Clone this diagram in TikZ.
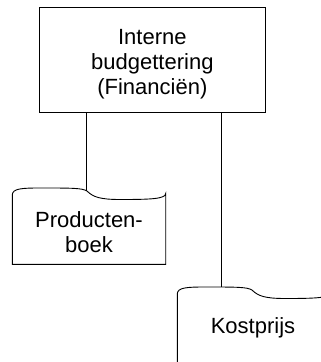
\documentclass[tikz,border=0pt]{standalone}
\usepackage{fontspec}
\setmainfont{Liberation Sans}
\begin{document}
\begin{tikzpicture}[x=1pt,y=-1pt,
  line/.style={draw=black,line width=0.9pt},
  lbl/.style={align=center,font=\fontsize{22}{25}\selectfont,inner sep=0pt},
  procbox/.style={line,rectangle,minimum width=225.3pt,minimum height=105.4pt,inner sep=0pt}]
\useasboundingbox (0,0) rectangle (321,362);
\clip (0,0) rectangle (321,362);
% process box
\node[procbox] (budget) at (152.35,60) {};
\node[lbl] (budgettext) at (152.35,64) {Interne\\budgettering\\(Financiën)};
% document shape 1
\draw[line] (12.3,264.3) -- (12.3,195)
  .. controls (12.3,188.5) and (22,188) .. (40,188)
  .. controls (72,188) and (82,188) .. (87,191)
  .. controls (93,197) and (100,199.5) .. (120,199.5)
  .. controls (150,199.5) and (165.7,199) .. (165.7,193.5)
  -- (165.7,264.3) -- cycle;
\coordinate (doc1top) at (86.7,190.6);
\node[lbl] (producten) at (89,232) {Producten-\\boek};
% document shape 2 (shifted by (165,99))
\begin{scope}[shift={(165,99)}]
\draw[line] (12.3,270) -- (12.3,195)
  .. controls (12.3,188.5) and (22,188) .. (40,188)
  .. controls (72,188) and (82,188) .. (87,191)
  .. controls (93,197) and (100,199.5) .. (120,199.5)
  .. controls (150,199.5) and (165.7,199) .. (165.7,193.5)
  -- (165.7,270);
\end{scope}
\coordinate (doc2top) at (221.7,287);
\node[lbl] (kostprijs) at (253,328) {Kostprijs};
% connectors
\draw[line] (budget.south -| doc1top) -- (doc1top);
\draw[line] (budget.south -| doc2top) -- (doc2top);
\end{tikzpicture}
\end{document}
